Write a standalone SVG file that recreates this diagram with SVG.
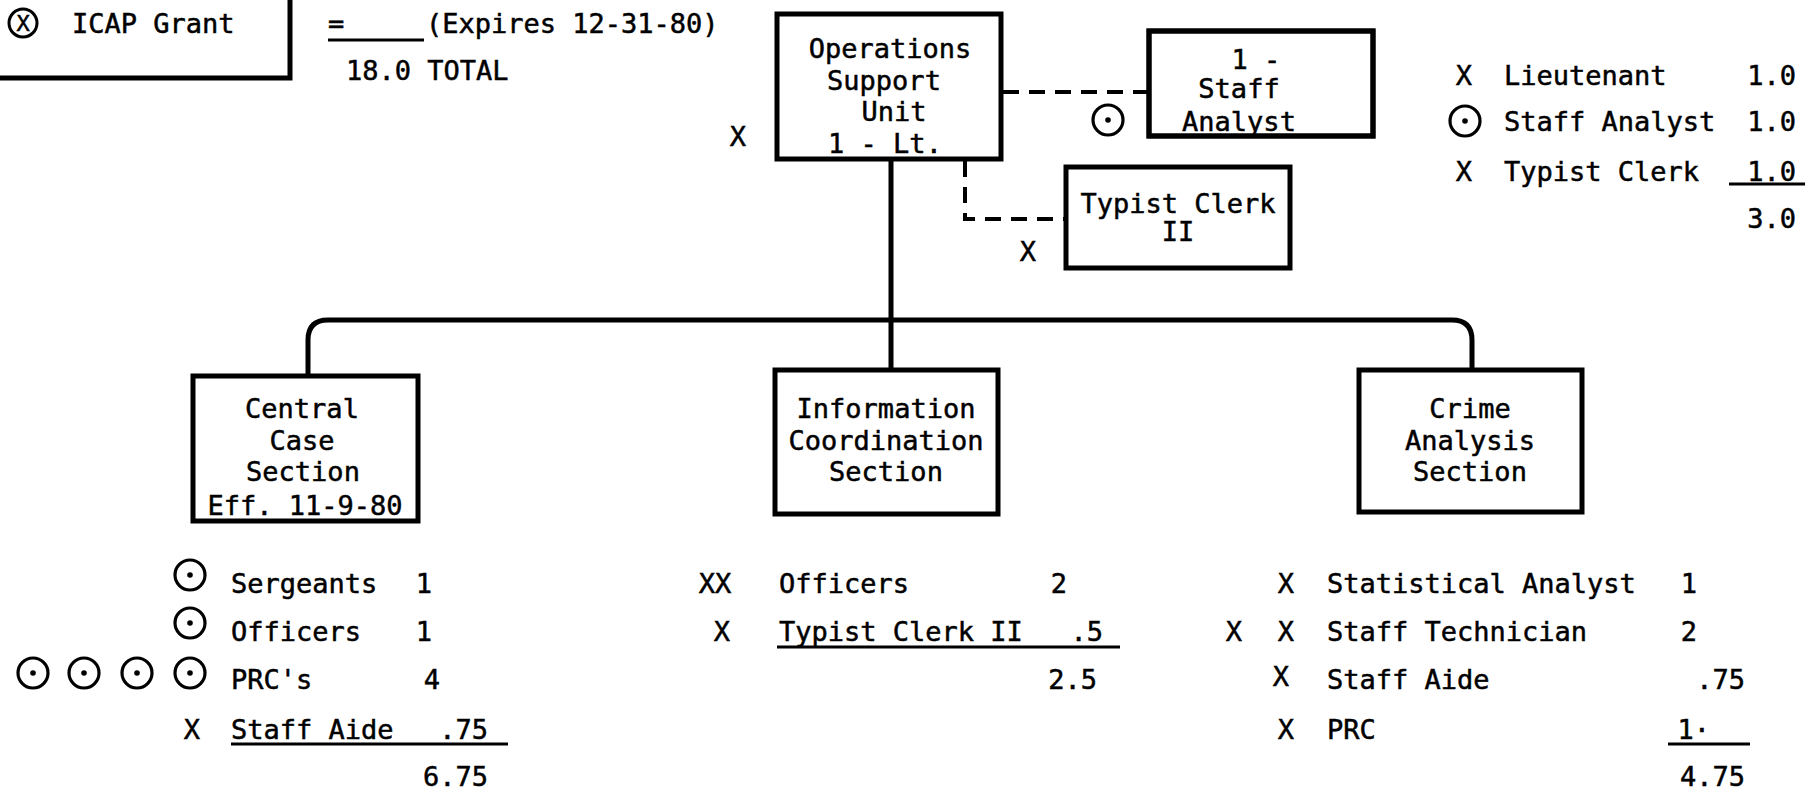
<svg xmlns="http://www.w3.org/2000/svg" width="1820" height="795" viewBox="0 0 1820 795">
<style>
text{font-family:"DejaVu Sans Mono","Liberation Mono",monospace;font-size:27px;fill:#000;stroke:#000;stroke-width:0.5}
.c{text-anchor:middle}
.e{text-anchor:end}
.box{fill:#fff;stroke:#000;stroke-width:5}
.frame{fill:none;stroke:#000;stroke-width:5}
.ln{fill:none;stroke:#000;stroke-width:5}
.dash{fill:none;stroke:#000;stroke-width:4;stroke-dasharray:16 10}
.ul{stroke:#000;stroke-width:3}
</style>
<defs>
<g id="dot"><circle r="15" fill="none" stroke="#000" stroke-width="3.2"/><circle r="2.8" fill="#000"/></g>
</defs>
<rect width="1820" height="795" fill="#fff"/>
<g id="connectors">
<line class="dash" x1="1003" y1="92" x2="1149" y2="92"/>
<path class="dash" d="M965,161 V219 H1066"/>
<path class="ln" d="M891,161 V369"/>
<path class="ln" d="M308,375 V340 Q308,320 328,320 H1452 Q1472,320 1472,340 V369"/>
</g>
<g id="icap">
<rect class="box" x="-10" y="-10" width="300" height="88"/>
<circle cx="23" cy="23" r="14" fill="none" stroke="#000" stroke-width="3"/>
<text x="23" y="31" class="c" style="font-size:22px">X</text>
<text x="72" y="33">ICAP Grant</text>
</g>
<g id="grant-note">
<text x="328" y="33">=</text>
<line class="ul" x1="328" y1="40" x2="424" y2="40"/>
<text x="426" y="33">(Expires 12-31-80)</text>
<text x="346" y="80">18.0 TOTAL</text>
</g>
<g id="ops">
<rect class="box" x="777" y="14" width="224" height="145"/>
<text x="890" y="58" class="c">Operations</text>
<text x="884" y="90" class="c">Support</text>
<text x="894" y="121" class="c">Unit</text>
<text x="885" y="153" class="c">1 - Lt.</text>
<text x="738" y="146" class="c">X</text>
</g>
<g id="staff-analyst">
<rect class="box" x="1149" y="31" width="224" height="105"/>
<text x="1256" y="69" class="c">1 -</text>
<text x="1239" y="98" class="c">Staff</text>
<text x="1239" y="131" class="c">Analyst</text>
<rect class="frame" x="1149" y="31" width="224" height="105"/>
<use href="#dot" x="1108" y="120"/>
</g>
<g id="typist">
<rect class="box" x="1066" y="167" width="224" height="101"/>
<text x="1178" y="213" class="c">Typist Clerk</text>
<text x="1178" y="241" class="c">II</text>
<text x="1028" y="261" class="c">X</text>
</g>
<g id="legend-top">
<text x="1464" y="85" class="c">X</text>
<text x="1504" y="85">Lieutenant</text>
<text x="1796" y="85" class="e">1.0</text>
<use href="#dot" x="1465" y="121"/>
<text x="1504" y="131">Staff Analyst</text>
<text x="1796" y="131" class="e">1.0</text>
<text x="1464" y="181" class="c">X</text>
<text x="1504" y="181">Typist Clerk</text>
<text x="1796" y="181" class="e">1.0</text>
<line class="ul" x1="1729" y1="184" x2="1805" y2="184"/>
<text x="1796" y="228" class="e">3.0</text>
</g>
<g id="central">
<rect class="box" x="193" y="376" width="225" height="145"/>
<text x="302" y="418" class="c">Central</text>
<text x="302" y="450" class="c">Case</text>
<text x="303" y="481" class="c">Section</text>
<text x="305" y="515" class="c">Eff. 11-9-80</text>
</g>
<g id="info">
<rect class="box" x="775" y="370" width="223" height="144"/>
<text x="886" y="418" class="c">Information</text>
<text x="886" y="450" class="c">Coordination</text>
<text x="886" y="481" class="c">Section</text>
</g>
<g id="crime">
<rect class="box" x="1359" y="370" width="223" height="142"/>
<text x="1470" y="418" class="c">Crime</text>
<text x="1470" y="450" class="c">Analysis</text>
<text x="1470" y="481" class="c">Section</text>
</g>
<g id="list-central">
<use href="#dot" x="190" y="575"/>
<text x="231" y="593">Sergeants</text>
<text x="432" y="593" class="e">1</text>
<use href="#dot" x="190" y="623"/>
<text x="231" y="641">Officers</text>
<text x="432" y="641" class="e">1</text>
<use href="#dot" x="33" y="673"/>
<use href="#dot" x="84" y="673"/>
<use href="#dot" x="137" y="673"/>
<use href="#dot" x="190" y="673"/>
<text x="231" y="689">PRC's</text>
<text x="440" y="689" class="e">4</text>
<text x="192" y="739" class="c">X</text>
<text x="231" y="739">Staff Aide</text>
<text x="488" y="739" class="e">.75</text>
<line class="ul" x1="231" y1="744" x2="508" y2="744"/>
<text x="488" y="786" class="e">6.75</text>
</g>
<g id="list-info">
<text x="715" y="593" class="c">XX</text>
<text x="779" y="593">Officers</text>
<text x="1067" y="593" class="e">2</text>
<text x="722" y="641" class="c">X</text>
<text x="779" y="641">Typist Clerk II</text>
<text x="1103" y="641" class="e">.5</text>
<line class="ul" x1="777" y1="647" x2="1120" y2="647"/>
<text x="1097" y="689" class="e">2.5</text>
</g>
<g id="list-crime">
<text x="1286" y="593" class="c">X</text>
<text x="1327" y="593">Statistical Analyst</text>
<text x="1697" y="593" class="e">1</text>
<text x="1234" y="641" class="c">X</text>
<text x="1286" y="641" class="c">X</text>
<text x="1327" y="641">Staff Technician</text>
<text x="1697" y="641" class="e">2</text>
<text x="1281" y="686" class="c">X</text>
<text x="1327" y="689">Staff Aide</text>
<text x="1745" y="689" class="e">.75</text>
<text x="1286" y="739" class="c">X</text>
<text x="1327" y="739">PRC</text>
<text x="1710" y="739" class="e">1·</text>
<line class="ul" x1="1668" y1="744" x2="1750" y2="744"/>
<text x="1745" y="786" class="e">4.75</text>
</g>
</svg>
